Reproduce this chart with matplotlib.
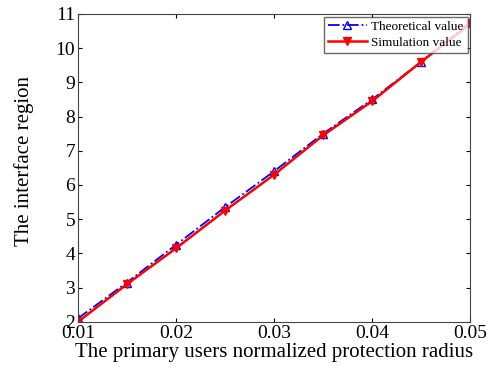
import numpy as np
import matplotlib
matplotlib.use("Agg")
import matplotlib.pyplot as plt

plt.rcParams['font.family'] = ['Liberation Serif', 'DejaVu Serif']

# data
radius = [0.01, 0.015, 0.02, 0.025, 0.03, 0.035, 0.04, 0.045, 0.05]
theoretical = [2.1, 3.15, 4.25, 5.35, 6.4, 7.5, 8.5, 9.6, 10.75]
simulation = [2.0, 3.1, 4.15, 5.25, 6.3, 7.45, 8.45, 9.6, 10.7]

fig = plt.figure(figsize=(4.96, 3.76), dpi=100)
ax = fig.add_axes([0.157, 0.144, 0.791, 0.819])

ax.plot(radius, theoretical, color='blue', linestyle='-.', linewidth=1.3,
        marker='^', markersize=6, markerfacecolor='none', markeredgecolor='blue',
        label='Theoretical value')
ax.plot(radius, simulation, color='red', linestyle='-', linewidth=1.8,
        marker='v', markersize=6, markerfacecolor='red', markeredgecolor='red',
        label='Simulation value')

ax.set_xlim(0.01, 0.05)
ax.set_ylim(2, 11)
ax.set_xticks([0.01, 0.02, 0.03, 0.04, 0.05])
ax.set_xticklabels(['0.01', '0.02', '0.03', '0.04', '0.05'])
ax.set_yticks(range(2, 12))
ax.tick_params(direction='in', labelsize=14, length=3, top=True, right=True, pad=2)
for s in ax.spines.values():
    s.set_color('#444444')

ax.set_xlabel('The primary users normalized protection radius', fontsize=15, labelpad=1)
ax.set_ylabel('The interface region', fontsize=15)
ax.yaxis.set_label_coords(-0.112, 0.523)

ax.legend(loc='upper right', fontsize=9.5, frameon=True, fancybox=False,
          edgecolor='#444444', handlelength=3, borderpad=0.3, labelspacing=0.3,
          handletextpad=0.3, borderaxespad=0.2)

fig.savefig('out.png', dpi=100)
